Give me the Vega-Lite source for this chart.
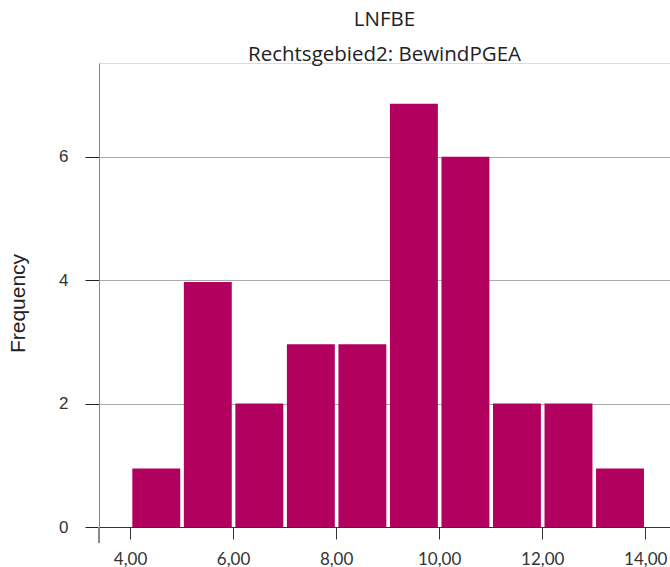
{
  "$schema": "https://vega.github.io/schema/vega-lite/v6.json",
  "width": 571,
  "height": 464,
  "autosize": {"type": "none"},
  "padding": {"left": 99, "top": 63, "right": 0, "bottom": 40},
  "background": "white",
  "title": {
    "text": "LNFBE",
    "subtitle": "Rechtsgebied2: BewindPGEA",
    "anchor": "middle",
    "font": "Open Sans",
    "fontSize": 20.5,
    "fontWeight": "normal",
    "color": "#222222",
    "subtitleFont": "Open Sans",
    "subtitleFontSize": 20.5,
    "subtitleColor": "#222222",
    "subtitlePadding": 14.5,
    "offset": -2
  },
  "data": {
    "values": [
      {"bin_start": 4, "bin_end": 5, "count": 0.95},
      {"bin_start": 5, "bin_end": 6, "count": 3.97},
      {"bin_start": 6, "bin_end": 7, "count": 2.0},
      {"bin_start": 7, "bin_end": 8, "count": 2.96},
      {"bin_start": 8, "bin_end": 9, "count": 2.96},
      {"bin_start": 9, "bin_end": 10, "count": 6.86},
      {"bin_start": 10, "bin_end": 11, "count": 6.0},
      {"bin_start": 11, "bin_end": 12, "count": 2.0},
      {"bin_start": 12, "bin_end": 13, "count": 2.0},
      {"bin_start": 13, "bin_end": 14, "count": 0.95}
    ]
  },
  "layer": [
    {
      "mark": {"type": "bar", "color": "#b2005e", "binSpacing": 3.6},
      "encoding": {
        "x": {
          "field": "bin_start",
          "type": "quantitative",
          "bin": {"binned": true, "step": 1},
          "scale": {"domain": [3.398, 14.48], "nice": false, "zero": false},
          "axis": {
            "title": null,
            "values": [4, 6, 8, 10, 12, 14],
            "labelExpr": "replace(format(datum.value, '.2f'), '.', ',')",
            "domainColor": "#333333",
            "tickColor": "#333333",
            "tickSize": 12,
            "labelFont": "Lato",
            "labelFontSize": 17,
            "labelColor": "#333333",
            "labelPadding": 12,
            "grid": false,
            "labelFlush": false,
            "labelOverlap": false
          }
        },
        "x2": {"field": "bin_end"},
        "y": {
          "field": "count",
          "type": "quantitative",
          "scale": {"domain": [0, 7.52], "nice": false},
          "axis": {
            "title": "Frequency",
            "values": [0, 2, 4, 6],
            "format": "d",
            "domainColor": "#888888",
            "tickColor": "#222222",
            "tickSize": 14,
            "labelFont": "Liberation Sans",
            "labelFontSize": 17,
            "labelColor": "#333333",
            "labelPadding": 17,
            "grid": true,
            "gridColor": "#aaaaaa",
            "titleFont": "Liberation Sans",
            "titleFontSize": 21,
            "titleFontWeight": "normal",
            "titleColor": "#222222",
            "titlePadding": 30,
            "titleY": 240
          }
        }
      }
    },
    {
      "mark": {"type": "rule", "color": "#888888", "clip": false},
      "encoding": {
        "x": {"datum": 3.398},
        "y": {"datum": -0.26},
        "y2": {"datum": 0}
      }
    }
  ]
}
